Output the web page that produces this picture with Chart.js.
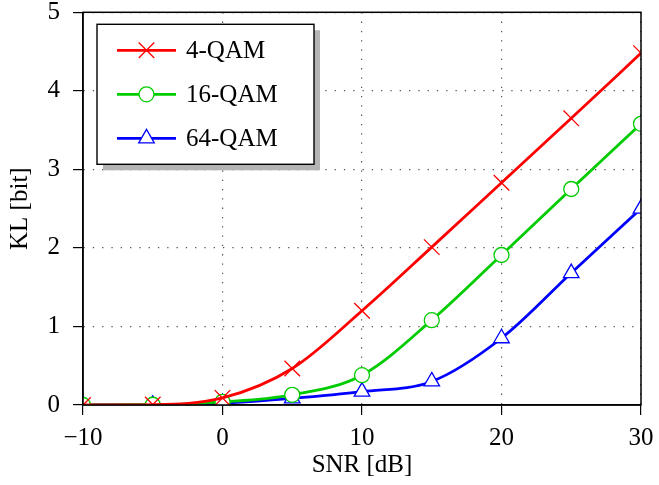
<!DOCTYPE html>
<html>
<head>
<meta charset="utf-8">
<script src="https://cdn.jsdelivr.net/npm/chart.js@4"></script>
<style>
  html, body { margin: 0; padding: 0; background: #fff; }
  #wrap { width: 659px; height: 485px; }
</style>
</head>
<body>
<div id="wrap"><canvas id="grafico" width="659" height="485"></canvas></div>
<script>
var snr = [-10, -5, 0, 5, 10, 15, 20, 25, 30];
var kl4 = [0.0, 0.005, 0.09, 0.465, 1.20, 2.01, 2.83, 3.65, 4.48];
var kl16 = [0.0, 0.003, 0.04, 0.13, 0.38, 1.08, 1.91, 2.75, 3.58];
var kl64 = [0.0, 0.002, 0.025, 0.085, 0.17, 0.30, 0.85, 1.68, 2.50];
var labels = ['4-QAM', '16-QAM', '64-QAM'];
var xTicks = [-10, 0, 10, 20, 30];
var yTicks = [0, 1, 2, 3, 4, 5];

var FONT = '"Liberation Serif", "DejaVu Serif", serif';

function pts(ys) {
    return snr.map(function (x, i) { return {x: x, y: ys[i]}; });
}

function serie(label, ys, color, style, radius) {
    return {
        label: label,
        data: pts(ys),
        borderColor: color,
        backgroundColor: color,
        borderWidth: 2.8,
        cubicInterpolationMode: 'monotone',
        pointStyle: style,
        pointRadius: radius,
        pointBorderColor: color,
        pointBackgroundColor: '#fff',
        pointBorderWidth: 1.3,
        clip: 0
    };
}

// legend box with drop shadow, drawn inside the plot area
var legendBox = {
    id: 'legendBox',
    afterDatasetsDraw: function (chart) {
        var ctx = chart.ctx, a = chart.chartArea;
        var x0 = a.left + 14, y0 = a.top + 12, w = 217, h = 140;
        ctx.save();
        ctx.fillStyle = '#b4b4b4';
        ctx.fillRect(x0 + 6, y0 + 6, w, h);
        ctx.fillStyle = '#fff';
        ctx.fillRect(x0, y0, w, h);
        ctx.strokeStyle = '#000';
        ctx.lineWidth = 1.4;
        ctx.strokeRect(x0, y0, w, h);
        chart.data.datasets.forEach(function (ds, i) {
            var cy = y0 + 26 + i * 44;
            ctx.strokeStyle = ds.borderColor;
            ctx.lineWidth = ds.borderWidth;
            ctx.beginPath();
            ctx.moveTo(x0 + 20, cy);
            ctx.lineTo(x0 + 79, cy);
            ctx.stroke();
            ctx.fillStyle = ds.pointBackgroundColor;
            ctx.strokeStyle = ds.pointBorderColor;
            ctx.lineWidth = ds.pointBorderWidth;
            Chart.helpers.drawPoint(ctx, {pointStyle: ds.pointStyle, radius: ds.pointRadius, rotation: 0, borderWidth: ds.pointBorderWidth}, x0 + 49.5, cy);
            ctx.fillStyle = '#000';
            ctx.font = '25px ' + FONT;
            ctx.textBaseline = 'middle';
            ctx.fillText(ds.label, x0 + 89, cy + 1);
        });
        ctx.restore();
    }
};

var myChart = new Chart(document.getElementById('grafico'), {
    type: 'line',
    data: {
        datasets: [
            serie(labels[0], kl4, '#ff0000', 'crossRot', 11),
            serie(labels[1], kl16, '#00cc00', 'circle', 7.5),
            serie(labels[2], kl64, '#0000ff', 'triangle', 9)
        ]
    },
    options: {
        responsive: false,
        animation: false,
        layout: {padding: {top: 12, right: 18, left: 0, bottom: 0}},
        plugins: {legend: {display: false}, tooltip: {enabled: false}},
        scales: {
            x: {
                type: 'linear',
                min: -10, max: 30,
                afterBuildTicks: function (s) { s.ticks = xTicks.map(function (v) { return {value: v}; }); },
                afterFit: function (s) { s.height = 80; s.paddingLeft = 0; s.paddingRight = 0; },
                ticks: {
                    color: '#000',
                    font: {family: FONT, size: 25},
                    padding: 8,
                    maxRotation: 0,
                    callback: function (v) { return v < 0 ? '\u2212' + Math.abs(v) : String(v); }
                },
                grid: {color: '#555', lineWidth: 1.2, tickLength: 10, tickColor: '#000', tickWidth: 1.2, tickBorderDash: []},
                border: {display: true, color: '#000', width: 1.5, dash: [1.3, 8]},
                title: {display: true, text: 'SNR [dB]', color: '#000', font: {family: FONT, size: 25}, padding: {top: 0, bottom: 5}}
            },
            y: {
                min: 0, max: 5,
                afterBuildTicks: function (s) { s.ticks = yTicks.map(function (v) { return {value: v}; }); },
                afterFit: function (s) { s.width = 83; s.paddingTop = 0; s.paddingBottom = 0; },
                ticks: {color: '#000', font: {family: FONT, size: 25}, padding: 13},
                grid: {color: '#555', lineWidth: 1.2, tickLength: 10, tickColor: '#000', tickWidth: 1.2, tickBorderDash: []},
                border: {display: true, color: '#000', width: 1.5, dash: [1.3, 8]},
                title: {display: true, text: 'KL [bit]', color: '#000', font: {family: FONT, size: 25}, padding: {top: 5, bottom: 0}}
            }
        }
    },
    plugins: [legendBox, {
        // closing frame on top and right
        id: 'frame',
        afterDatasetsDraw: function (chart) {
            var ctx = chart.ctx, a = chart.chartArea;
            ctx.save();
            ctx.strokeStyle = '#000';
            ctx.lineWidth = 1.5;
            ctx.strokeRect(a.left, a.top, a.right - a.left, a.bottom - a.top);
            ctx.restore();
        }
    }]
});
</script>
</body>
</html>
